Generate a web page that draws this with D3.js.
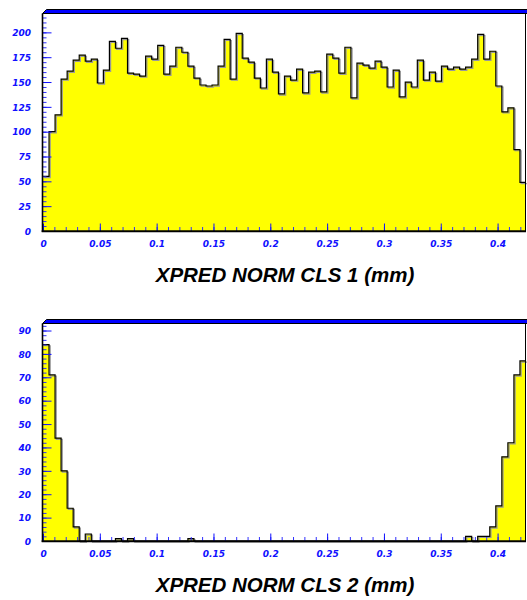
<!DOCTYPE html>
<html>
<head>
<meta charset="utf-8">
<script src="https://cdn.jsdelivr.net/npm/d3@7"></script>
<style>
  html, body { margin: 0; padding: 0; background: #fff; }
  svg { display: block; }
  .tick text { font-family: "DejaVu Sans", sans-serif; font-weight: bold; font-style: italic; font-size: 9px; fill: #1010ff; }
  .title { font-family: "Liberation Sans", Arial, sans-serif; font-weight: bold; font-style: italic; font-size: 20.5px; fill: #000; }
</style>
</head>
<body>
<script>
// Histogram range and binning (mm)
const xMin = 0, xMax = 0.425, nBins = 80;
const xMajorTicks = [0, 0.05, 0.1, 0.15, 0.2, 0.25, 0.3, 0.35, 0.4];
const xTickLabels = ["0", "0.05", "0.1", "0.15", "0.2", "0.25", "0.3", "0.35", "0.4"];

// Cluster 1 counts per bin
const cls1Counts = [
  55, 100, 117, 153, 161, 172, 177, 171, 173, 149,
  162, 191, 184, 194, 159, 158, 156, 176, 173, 187,
  158, 166, 185, 180, 166, 154, 147, 146, 147, 166,
  193, 153, 199, 174, 170, 154, 144, 173, 160, 138,
  156, 152, 163, 139, 160, 161, 140, 178, 174, 159,
  185, 134, 169, 167, 164, 171, 165, 145, 162, 135,
  150, 145, 172, 152, 160, 151, 166, 163, 165, 163,
  165, 173, 198, 173, 181, 146, 120, 124, 82, 49
];
const cls1YMax = 219;
const cls1YTicks = [0, 25, 50, 75, 100, 125, 150, 175, 200];
const cls1Title = "XPRED NORM CLS 1 (mm)";

// Cluster 2 counts per bin
const cls2Counts = [
  84, 71, 44, 30, 14, 6, 0, 3, 0, 0,
  0, 0, 1, 0, 1, 0, 0, 0, 0, 0,
  0, 0, 0, 0, 1, 0, 0, 0, 0, 0,
  0, 0, 0, 0, 0, 0, 0, 0, 0, 0,
  0, 0, 0, 0, 0, 0, 0, 0, 0, 0,
  0, 0, 0, 0, 0, 0, 0, 0, 0, 0,
  0, 0, 0, 0, 0, 0, 0, 0, 0, 0,
  2, 0, 2, 2, 6, 15, 36, 42, 71, 77
];
const cls2YMax = 93;
const cls2YTicks = [0, 10, 20, 30, 40, 50, 60, 70, 80, 90];
const cls2Title = "XPRED NORM CLS 2 (mm)";

const W = 527, H = 600;
const svg = d3.select("body").append("svg").attr("width", W).attr("height", H);

function drawPanel(cfg) {
  const { top, bottom, counts, yMax, yTicks, yMinorStep, title, titleY } = cfg;
  const left = 43, right = 526;
  const x = d3.scaleLinear().domain([xMin, xMax]).range([left, right]);
  const y = d3.scaleLinear().domain([0, yMax]).range([bottom, top]);
  const g = svg.append("g");

  // step outline of the histogram
  const binW = (xMax - xMin) / nBins;
  const pts = [[x(xMin), y(0)]];
  counts.forEach((c, i) => {
    pts.push([x(xMin + i * binW), y(c)]);
    pts.push([x(xMin + (i + 1) * binW), y(c)]);
  });
  pts.push([x(xMax), y(0)]);
  const line = d3.line();

  g.append("path").attr("d", line(pts) + "Z").attr("fill", "#ffff00").attr("stroke", "none");
  g.append("path").attr("d", line(pts.slice(1, -1)))
    .attr("fill", "none").attr("stroke", "#9a9a9a").attr("stroke-width", 1.2)
    .attr("transform", "translate(1.2,1.2)");
  g.append("path").attr("d", line(pts.slice(1, -1)))
    .attr("fill", "none").attr("stroke", "#000").attr("stroke-width", 1.2);

  // minor ticks
  const yMinor = d3.range(0, yMax + 1e-9, yMinorStep);
  g.append("g").attr("transform", `translate(${left},0)`)
    .call(d3.axisLeft(y).tickValues(yMinor).tickFormat("").tickSizeInner(-3.5).tickSizeOuter(0))
    .call(a => a.select(".domain").remove())
    .selectAll("line").attr("stroke", "#3030ff");
  const xMinor = d3.range(0, xMax + 1e-9, 0.01);
  g.append("g").attr("transform", `translate(0,${bottom})`)
    .call(d3.axisBottom(x).tickValues(xMinor).tickFormat("").tickSizeInner(-4).tickSizeOuter(0))
    .call(a => a.select(".domain").remove())
    .selectAll("line").attr("stroke", "#3030ff");

  // major ticks and labels
  g.append("g").attr("transform", `translate(${left},0)`)
    .call(d3.axisLeft(y).tickValues(yTicks).tickFormat(d3.format("d")).tickSizeInner(-8.5).tickSizeOuter(0).tickPadding(12))
    .call(a => a.select(".domain").remove())
    .call(a => a.selectAll("line").attr("stroke", "#1010ff"))
    .call(a => a.selectAll("text").attr("dy", "0.36em"));
  g.append("g").attr("transform", `translate(0,${bottom})`)
    .call(d3.axisBottom(x).tickValues(xMajorTicks).tickFormat((d, i) => xTickLabels[i]).tickSizeInner(-7.5).tickSizeOuter(0).tickPadding(9.5))
    .call(a => a.select(".domain").remove())
    .call(a => a.selectAll("line").attr("stroke", "#1010ff"));

  // frame
  g.append("line").attr("x1", right - 0.5).attr("x2", right - 0.5).attr("y1", top).attr("y2", bottom)
    .attr("stroke", "#000").attr("stroke-width", 1);
  g.append("line").attr("x1", left - 0.5).attr("x2", left - 0.5).attr("y1", top).attr("y2", bottom + 1)
    .attr("stroke", "#000").attr("stroke-width", 1.6);
  g.append("line").attr("x1", left - 1.3).attr("x2", right).attr("y1", bottom + 0.3).attr("y2", bottom + 0.3)
    .attr("stroke", "#000").attr("stroke-width", 2);

  // bevelled bar across the top of the frame
  g.append("path")
    .attr("d", `M${left - 0.5},${top} L${left + 3.5},${top - 4} L${W + 2},${top - 4} L${W + 2},${top} Z`)
    .attr("fill", "#0000ff").attr("stroke", "#000").attr("stroke-width", 1);

  svg.append("text").attr("class", "title")
    .attr("x", 285).attr("y", titleY).attr("text-anchor", "middle")
    .text(title);
}

drawPanel({ top: 13.5, bottom: 231, counts: cls1Counts, yMax: cls1YMax, yTicks: cls1YTicks, yMinorStep: 5, title: cls1Title, titleY: 282 });
drawPanel({ top: 323.5, bottom: 541, counts: cls2Counts, yMax: cls2YMax, yTicks: cls2YTicks, yMinorStep: 2, title: cls2Title, titleY: 592 });
</script>
</body>
</html>
